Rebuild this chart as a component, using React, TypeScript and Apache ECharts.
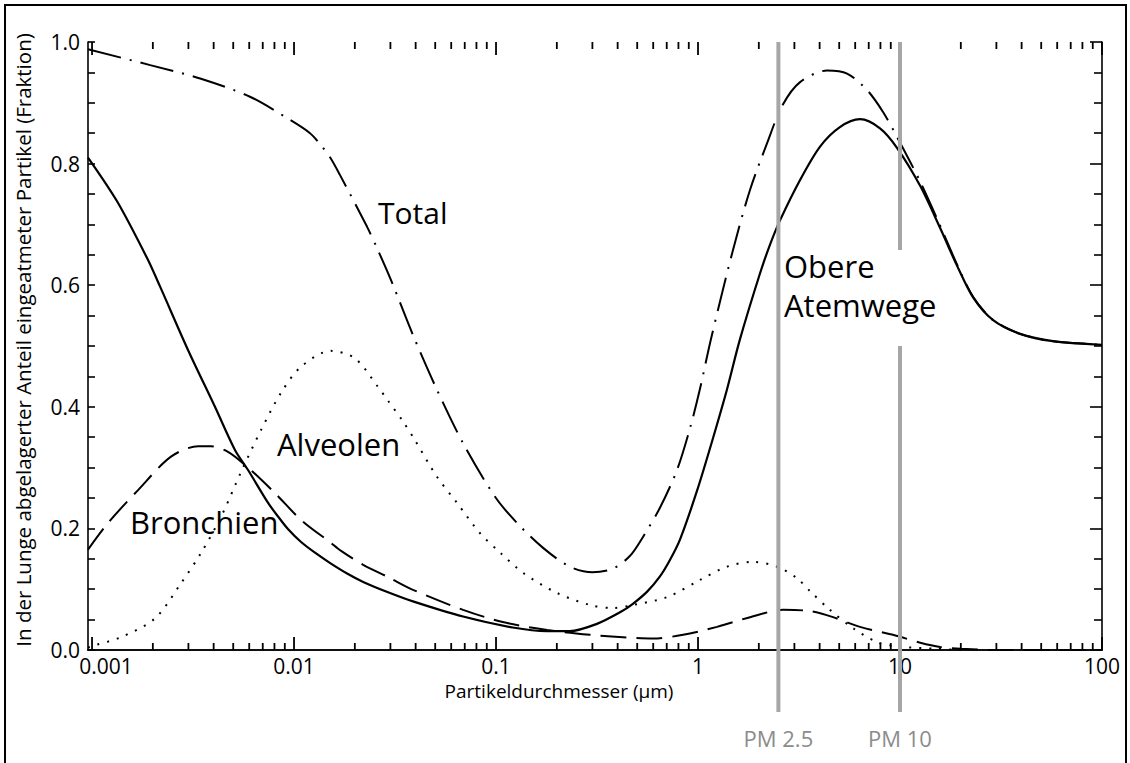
import React, { useEffect, useRef } from 'react';
import * as echarts from 'echarts';

// ---- data ----
const xTickValues = [0.001, 0.01, 0.1, 1, 10, 100];
const xTickLabels = ['0.001', '0.01', '0.1', '1', '10', '100'];
const minorDecades = [0.001, 0.01, 0.1, 1, 10];
const minorMultipliers = [2, 3, 4, 5, 6, 7, 8, 9];

const obereAtemwege: [number, number][] = [
  [0.000955, 0.81], [0.00133, 0.738], [0.00187, 0.645], [0.00217, 0.598], [0.00299, 0.493],
  [0.00406, 0.4], [0.0051, 0.329], [0.00592, 0.296], [0.00744, 0.242], [0.0084, 0.218],
  [0.00933, 0.199], [0.0108, 0.178], [0.0127, 0.16], [0.0151, 0.143], [0.0185, 0.125],
  [0.022, 0.112], [0.0292, 0.095], [0.0388, 0.08], [0.0687, 0.055], [0.121, 0.037],
  [0.179, 0.031], [0.232, 0.031], [0.316, 0.043], [0.411, 0.062], [0.476, 0.076],
  [0.56, 0.096], [0.648, 0.121], [0.726, 0.148], [0.815, 0.182], [0.989, 0.262],
  [1.19, 0.35], [1.39, 0.428], [1.61, 0.51], [2.03, 0.62], [2.28, 0.668], [2.55, 0.707],
  [3.2, 0.773], [4.02, 0.828], [5.04, 0.86], [6.34, 0.873], [7.96, 0.858], [9.66, 0.826],
  [12.6, 0.763], [15.8, 0.694], [19.1, 0.633], [23, 0.58], [28.8, 0.543], [39.3, 0.52],
  [57.2, 0.508], [100, 0.502],
];

const total: [number, number][] = [
  [0.000955, 0.988], [0.00194, 0.962], [0.00343, 0.94], [0.00605, 0.91], [0.00955, 0.872],
  [0.012, 0.85], [0.01346, 0.832], [0.0151, 0.81], [0.0169, 0.781], [0.023, 0.696],
  [0.026, 0.658], [0.0305, 0.605], [0.0388, 0.518], [0.051, 0.428], [0.0687, 0.34],
  [0.0989, 0.252], [0.127, 0.209], [0.171, 0.168], [0.232, 0.137], [0.3, 0.128],
  [0.38, 0.134], [0.461, 0.155], [0.534, 0.186], [0.648, 0.234], [0.787, 0.296],
  [0.913, 0.365], [1.02, 0.428], [1.16, 0.512], [1.49, 0.658], [1.81, 0.757], [2.2, 0.834],
  [2.61, 0.895], [3.2, 0.934], [4.35, 0.953], [5.47, 0.948], [6.87, 0.921], [8.24, 0.885],
  [9.66, 0.844], [12.6, 0.77], [15.8, 0.698], [19.1, 0.635], [23, 0.581], [28.8, 0.543],
  [39.3, 0.52], [57.2, 0.508], [100, 0.502],
];

const bronchien: [number, number][] = [
  [0.000955, 0.165], [0.0012, 0.209], [0.00169, 0.263], [0.00246, 0.318], [0.00335, 0.335],
  [0.00388, 0.335], [0.00471, 0.326], [0.00592, 0.3], [0.00805, 0.258], [0.01083, 0.214],
  [0.0151, 0.177], [0.0171, 0.163], [0.022, 0.14], [0.0292, 0.12], [0.0388, 0.099],
  [0.0687, 0.066], [0.108, 0.046], [0.179, 0.033], [0.292, 0.025], [0.425, 0.021],
  [0.6, 0.019], [0.844, 0.025], [1.242, 0.038], [1.81, 0.054], [2.64, 0.066], [3.58, 0.064],
  [4.66, 0.054], [6.34, 0.038], [9.23, 0.025], [12.6, 0.012], [15.8, 0.005], [20, 0.002],
  [30, 0], [100, 0],
];

const alveolen: [number, number][] = [
  [0.000955, 0.004], [0.00104, 0.008], [0.00139, 0.021], [0.00205, 0.052], [0.00276, 0.11],
  [0.00347, 0.16], [0.00435, 0.219], [0.00547, 0.293], [0.00687, 0.362], [0.00862, 0.423],
  [0.01083, 0.466], [0.0152, 0.492], [0.02, 0.48], [0.026, 0.433], [0.0292, 0.41],
  [0.0343, 0.378], [0.0397, 0.345], [0.051, 0.285], [0.0641, 0.242], [0.0834, 0.192],
  [0.105, 0.16], [0.136, 0.127], [0.2, 0.094], [0.292, 0.074], [0.38, 0.069], [0.476, 0.074],
  [0.703, 0.087], [1.02, 0.115], [1.39, 0.137], [1.87, 0.145], [2.46, 0.137], [3.09, 0.118],
  [3.58, 0.097], [4.5, 0.066], [5.85, 0.036], [7.69, 0.013], [9.66, 0.006], [15, 0.002],
  [20, 0],
];

const pmValues = [2.5, 10];
const pmLabels = ['PM 2.5', 'PM 10'];
const pmGaps: (number[] | null)[] = [null, [0.5, 0.658]];

const FONT = "'Open Sans', sans-serif";

export default function App() {
  const ref = useRef<HTMLDivElement>(null);
  useEffect(() => {
    if (!ref.current) return;
    const chart = echarts.init(ref.current, undefined, { renderer: 'svg' });

    // tick marks along the log axis: [value, 0, isMajor]
    const xTicks: number[][] = [];
    xTickValues.forEach((v) => xTicks.push([v, 0, 1]));
    minorDecades.forEach((d) => minorMultipliers.forEach((m) => xTicks.push([d * m, 0, 0])));

    const fmtX = (v: number) => {
      for (let i = 0; i < xTickValues.length; i++) {
        if (Math.abs(Math.log10(v) - Math.log10(xTickValues[i])) < 1e-6) {
          return i === 0 ? '{first|' + xTickLabels[i] + '}' : xTickLabels[i];
        }
      }
      return '';
    };

    const lineEl = (x1: number, y1: number, x2: number, y2: number, stroke: string, w: number) => ({
      type: 'line',
      shape: { x1, y1, x2, y2 },
      style: { stroke, lineWidth: w },
    });

    const axisCommon = {
      type: 'log',
      logBase: 10,
      min: 0.000955,
      max: 100,
      splitLine: { show: false },
      axisLine: { show: true, lineStyle: { color: '#000', width: 1.6 } },
      axisTick: { show: false },
    };

    const textEl = (text: string, x: number, y: number, size: number, extra: any = {}) => ({
      type: 'text',
      x,
      y,
      ...extra,
      style: {
        text,
        fill: '#000',
        fontSize: size,
        fontFamily: FONT,
        align: extra.align || 'left',
        textAlign: extra.align || 'left',
        verticalAlign: 'middle',
        textVerticalAlign: 'middle',
      },
    });

    chart.setOption({
      animation: false,
      backgroundColor: '#fff',
      grid: { left: 88, right: 28, top: 42, bottom: 113, outerBoundsMode: 'none' },
      xAxis: [
        {
          ...axisCommon,
          position: 'bottom',
          axisLabel: {
            show: true,
            formatter: fmtX,
            color: '#000',
            fontSize: 21,
            fontFamily: FONT,
            margin: 5,
            rich: {
              first: { fontSize: 21, fontFamily: FONT, color: '#000', padding: [0, 0, 0, 28] },
            },
          },
        },
        {
          ...axisCommon,
          position: 'top',
          axisLabel: { show: false },
        },
      ],
      yAxis: [
        {
          type: 'value',
          min: 0,
          max: 1,
          interval: 0.2,
          position: 'left',
          splitLine: { show: false },
          axisLine: { show: true, lineStyle: { color: '#000', width: 1.6 } },
          axisTick: { show: true, inside: true, length: 7, lineStyle: { color: '#000', width: 1.6 } },
          minorTick: { show: true, splitNumber: 4, length: 7, lineStyle: { color: '#000', width: 1.6 } },
          axisLabel: {
            formatter: (v: number) => v.toFixed(1),
            color: '#000',
            fontSize: 21,
            fontFamily: FONT,
            margin: 8,
          },
        },
        {
          type: 'value',
          min: 0,
          max: 1,
          interval: 0.2,
          position: 'right',
          splitLine: { show: false },
          axisLine: { show: true, lineStyle: { color: '#000', width: 1.6 } },
          axisTick: { show: true, inside: true, length: 12, lineStyle: { color: '#000', width: 1.6 } },
          minorTick: { show: true, splitNumber: 4, length: 8, lineStyle: { color: '#000', width: 1.6 } },
          axisLabel: { show: false },
        },
      ],
      series: [
        {
          name: 'Obere Atemwege',
          type: 'line',
          data: obereAtemwege,
          showSymbol: false,
          smooth: 0.3,
          lineStyle: { color: '#000', width: 2.2, type: 'solid' },
          z: 3,
        },
        {
          name: 'Total',
          type: 'line',
          data: total,
          showSymbol: false,
          smooth: 0.3,
          lineStyle: { color: '#000', width: 2, type: [34, 9, 2, 9] },
          z: 3,
        },
        {
          name: 'Bronchien',
          type: 'line',
          data: bronchien,
          showSymbol: false,
          smooth: 0.3,
          lineStyle: { color: '#000', width: 2, type: [26, 10] },
          z: 3,
        },
        {
          name: 'Alveolen',
          type: 'line',
          data: alveolen,
          showSymbol: false,
          smooth: 0.3,
          lineStyle: { color: '#000', width: 2, type: [2, 8] },
          z: 3,
        },
        {
          name: 'xTicks',
          type: 'custom',
          silent: true,
          clip: false,
          data: xTicks,
          encode: { x: 0, y: 1 },
          z: 6,
          renderItem: (_p: any, api: any) => {
            const v = api.value(0);
            const len = api.value(2) ? 13 : 7;
            const b = api.coord([v, 0]);
            const t = api.coord([v, 1]);
            return {
              type: 'group',
              children: [
                lineEl(b[0], b[1], b[0], b[1] - len, '#000', 1.8),
                lineEl(t[0], t[1], t[0], t[1] + len, '#000', 1.8),
              ],
            };
          },
        },
        {
          name: 'pm',
          type: 'custom',
          silent: true,
          clip: false,
          data: pmValues.map((v, i) => [v, 0, i]),
          encode: { x: 0, y: 1 },
          z: 10,
          renderItem: (_p: any, api: any) => {
            const v = api.value(0);
            const i = api.value(2);
            const top = api.coord([v, 1]);
            const bot = api.coord([v, 0]);
            const x = top[0];
            const yEnd = bot[1] + 62;
            const children: any[] = [];
            const gap = pmGaps[i];
            if (gap) {
              const gTop = api.coord([v, gap[1]])[1];
              const gBot = api.coord([v, gap[0]])[1];
              children.push(lineEl(x, top[1], x, gTop, '#a6a6a6', 4));
              children.push(lineEl(x, gBot, x, yEnd, '#a6a6a6', 4));
            } else {
              children.push(lineEl(x, top[1], x, yEnd, '#a6a6a6', 4));
            }
            children.push({
              type: 'text',
              x,
              y: bot[1] + 88,
              style: {
                text: pmLabels[i],
                fill: '#8c8c8c',
                fontSize: 22,
                fontFamily: FONT,
                align: 'center',
                textAlign: 'center',
                verticalAlign: 'middle',
                textVerticalAlign: 'middle',
              },
            });
            return { type: 'group', children };
          },
        },
      ],
      graphic: [
        {
          type: 'rect',
          shape: { x: 5, y: 5, width: 1121, height: 790 },
          style: { fill: 'none', stroke: '#000', lineWidth: 2 },
          silent: true,
        },
        textEl('Total', 378, 212, 30),
        textEl('Alveolen', 277, 444, 31),
        textEl('Bronchien', 130, 522, 31),
        textEl('Obere', 784, 266, 31),
        textEl('Atemwege', 784, 305, 31),
        textEl('Partikeldurchmesser (µm)', 559, 691, 19, { align: 'center' }),
        textEl('In der Lunge abgelagerter Anteil eingeatmeter Partikel (Fraktion)', 23, 340, 20.5, {
          align: 'center',
          rotation: Math.PI / 2,
        }),
      ],
    });

    return () => chart.dispose();
  }, []);

  return (
    <div
      ref={ref}
      style={{ position: 'fixed', left: 0, top: 0, width: 1130, height: 763, background: '#fff' }}
    />
  );
}
